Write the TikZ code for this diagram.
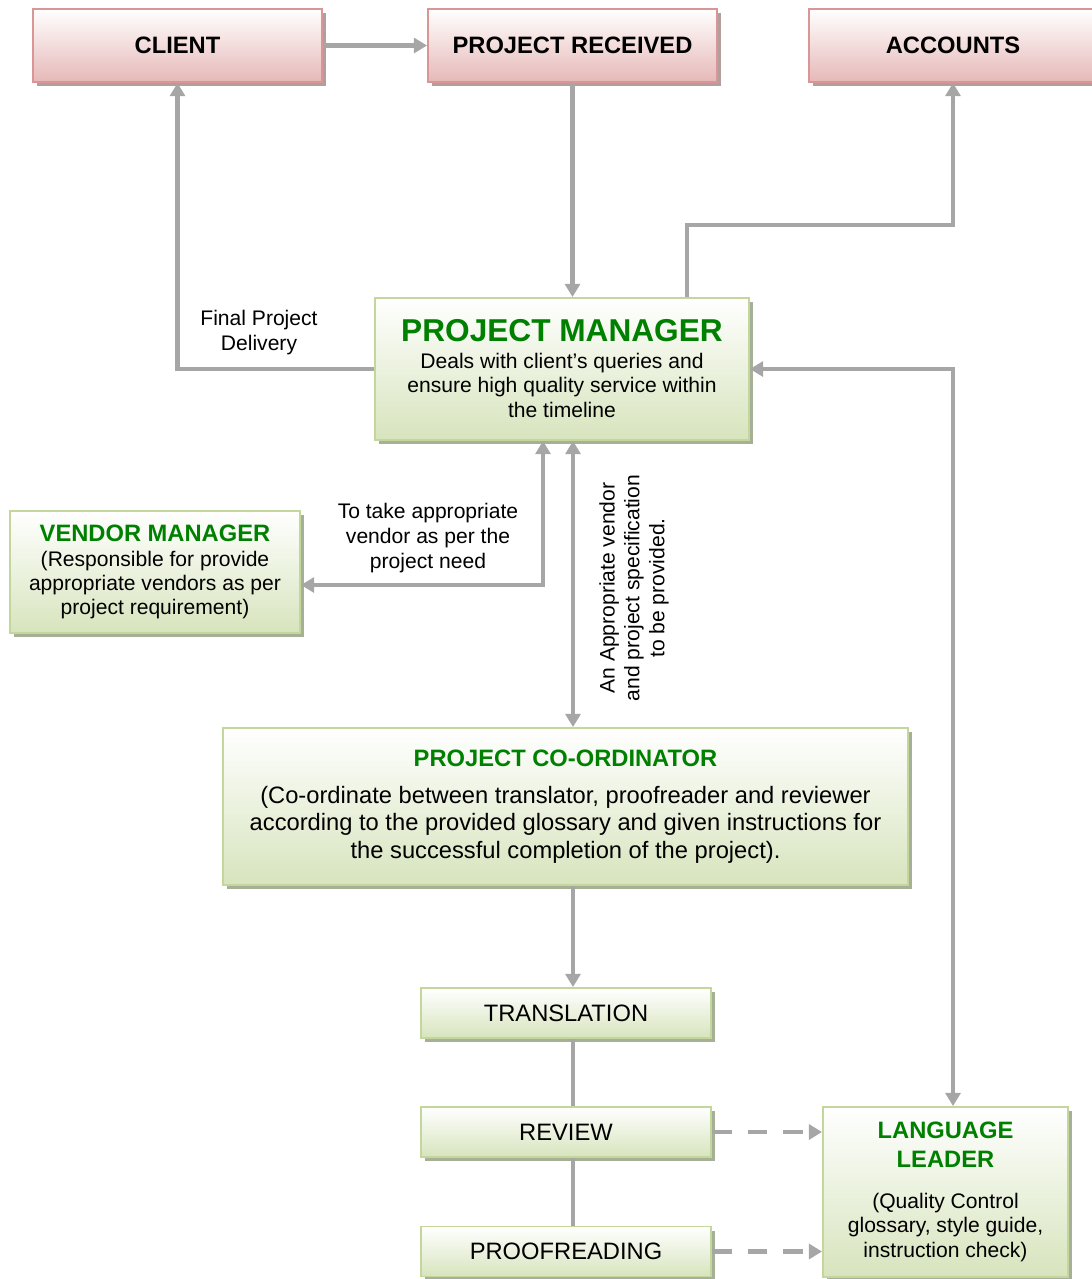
\documentclass[tikz,border=0pt]{standalone}
\usepackage{fontspec}
\setmainfont{Liberation Sans}
\usetikzlibrary{arrows.meta,shadows}

\definecolor{linegray}{RGB}{166,166,166}
\definecolor{redline}{RGB}{217,150,148}
\definecolor{redfill}{RGB}{230,184,183}
\definecolor{redshade}{RGB}{178,158,158}
\definecolor{greenline}{RGB}{195,214,155}
\definecolor{greenfill}{RGB}{215,228,189}
\definecolor{greenshade}{RGB}{166,176,150}
\definecolor{titlegreen}{RGB}{0,128,0}

\newcommand\greentitle[1]{{\fontsize{13.5}{16}\selectfont\bfseries\color{titlegreen}#1}}

\tikzset{
  redbox/.style={draw=redline, line width=1.1pt, top color=white, bottom color=redfill,
    drop shadow={shadow xshift=0.08cm, shadow yshift=-0.08cm, opacity=1, fill=redshade},
    inner sep=0pt, minimum width=5.78cm, minimum height=1.46cm,
    font=\fontsize{13.5}{16}\selectfont\bfseries},
  greenbox/.style={draw=greenline, line width=1.1pt, top color=white, bottom color=greenfill,
    drop shadow={shadow xshift=0.08cm, shadow yshift=-0.08cm, opacity=1, fill=greenshade},
    inner sep=0pt, align=center},
  stagebox/.style={greenbox, minimum width=5.8cm, minimum height=1cm,
    font=\fontsize{13.5}{16}\selectfont},
  remark/.style={align=center, inner sep=0pt, font=\fontsize{12}{14.2}\selectfont},
  link/.style={draw=linegray, line width=2.4pt},
  flow/.style={link, -{Triangle[length=7.5pt,width=8.5pt]}},
  twoway/.style={link, {Triangle[length=7.5pt,width=8.5pt]}-{Triangle[length=7.5pt,width=8.5pt]}},
  dashflow/.style={flow, dash pattern=on 11.3pt off 9pt},
}

\begin{document}
\begin{tikzpicture}[x=0.02cm,y=-0.02cm]
  \useasboundingbox (0,0) rectangle (1092,1279);

  % top row
  \node (client) [redbox] at (177.5,45.5) {CLIENT};
  \node (received) [redbox] at (572.5,45.5) {PROJECT RECEIVED};
  \node (accounts) [redbox] at (953,45.5) {ACCOUNTS};

  % managers
  \node (pm) [greenbox, minimum width=7.48cm, minimum height=2.84cm,
    font=\fontsize{12}{14.2}\selectfont] at (562,369)
    {{\fontsize{18}{20}\selectfont\bfseries\color{titlegreen}PROJECT MANAGER}\\[0.6pt]
     Deals with client’s queries and\\ ensure high quality service within\\ the timeline};
  \node (vendor) [greenbox, minimum width=5.8cm, minimum height=2.44cm,
    font=\fontsize{12}{13.9}\selectfont] at (155,572)
    {\greentitle{VENDOR MANAGER}\\[0.2pt]
     (Responsible for provide\\ appropriate vendors as per\\ project requirement)};
  \node (coord) [greenbox, minimum width=13.7cm, minimum height=3.14cm,
    font=\fontsize{13.5}{15.6}\selectfont] at (565.5,806.5)
    {\greentitle{PROJECT CO-ORDINATOR}\\[5.4pt]
     (Co-ordinate between translator, proofreader and reviewer\\
     according to the provided glossary and given instructions for\\
     the successful completion of the project).};

  % stages
  \node (transl) [stagebox] at (566,1013) {TRANSLATION};
  \node (review) [stagebox] at (566,1132) {REVIEW};
  \node (proof) [stagebox] at (566,1251.5) {PROOFREADING};
  \node (leader) [greenbox, minimum width=4.9cm, minimum height=3.4cm,
    font=\fontsize{12}{13.9}\selectfont] at (945.5,1192)
    {\greentitle{LANGUAGE}\\[2.5pt] \greentitle{LEADER}\\[9.3pt]
     (Quality Control\\ glossary, style guide,\\ instruction check)};

  % texts on the connectors
  \node (deliverynote) [remark] at (259,333) {Final Project\\ Delivery};
  \node (vendornote) [remark] at (428,538) {To take appropriate\\ vendor as per the\\ project need};
  \node (specnote) [remark, rotate=90] at (634,588)
    {An Appropriate vendor\\ and project specification\\ to be provided.};

  \draw[flow] (client) -- (received);
  \draw[flow] (received.south) -- (received.south |- pm.north);
  \draw[flow] (pm.north -| 687,0) -- (687,225) -| (accounts.south);
  \draw[flow] (pm.west) -| (client.south);
  \draw[twoway] (pm.south -| 573,0) -- (coord.north -| 573,0);
  \draw[twoway] (pm.south -| 543,0) |- (vendor.east |- 0,585);
  \draw[twoway] (leader.north -| 953,0) |- (pm.east);
  \draw[flow] (coord.south -| 573,0) -- (transl.north -| 573,0);
  \draw[link] (transl.south -| 573,0) -- (review.north -| 573,0);
  \draw[link] (review.south -| 573,0) -- (proof.north -| 573,0);
  \draw[dashflow] (review) -- (leader.west |- review);
  \draw[dashflow] (proof) -- (leader.west |- proof);

\end{tikzpicture}
\end{document}
